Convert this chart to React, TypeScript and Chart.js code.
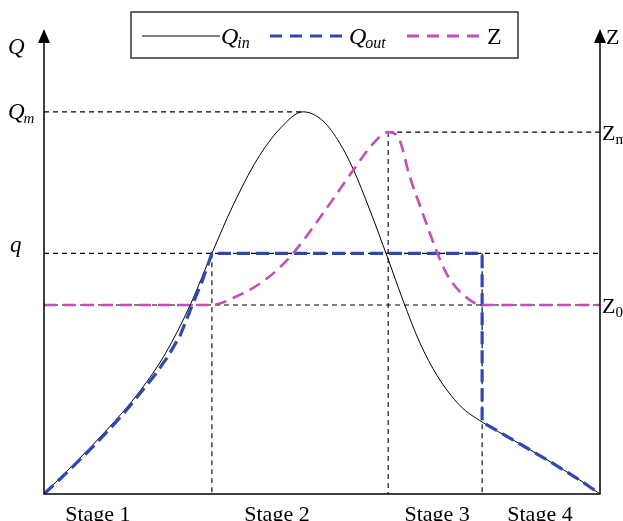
import React, { useEffect, useRef } from "react";
import { Chart, registerables } from "chart.js";

Chart.register(...registerables);

// ---- data (schematic units: x 0..100, Q/Z 0..100) ----
const QIN_X = [0, 11.3, 17.3, 21.8, 26.3, 28.4, 30.2, 34.0, 38.3, 42.4, 46.6, 50.2, 53.2, 55.6, 58.6, 61.7, 64.6, 67.6, 70.7, 74.8, 78.8, 84.4, 90.5, 96.4, 100];
const QIN_Y = [0, 13.9, 22.4, 30.4, 41.0, 47.0, 52.2, 62.6, 72.5, 79.2, 82.9, 80.9, 76.1, 70.5, 61.6, 51.6, 41.9, 32.8, 25.7, 19.2, 15.6, 11.7, 7.4, 3.0, 0];

const QOUT_X = [0, 4.5, 9.5, 14.0, 17.8, 20.0, 22.1, 24.5, 26.3, 28.4, 30.2, 78.8, 78.8, 84.4, 90.5, 96.4, 100];
const QOUT_Y = [0, 5.1, 11.1, 17.0, 22.6, 25.9, 29.5, 34.4, 39.9, 46.0, 52.2, 52.2, 15.6, 11.7, 7.4, 3.0, 0];

const Z_X = [0, 30.2, 34.7, 38.8, 42.1, 44.8, 50.2, 55.6, 59.2, 61.9, 63.7, 65.8, 68.2, 70.7, 72.5, 74.8, 78.8, 100];
const Z_Y = [41, 41, 42.9, 45.6, 48.8, 52.2, 60.9, 70.2, 76.0, 78.5, 77.4, 68.8, 60.6, 52.4, 47.6, 43.9, 41, 41];

const Q_M = 82.9;
const Q_Q = 52.2;
const Z_M = 78.5;
const Z_0 = 41;
const QM_X = 46.6;
const STAGE_BOUNDS = [30.2, 61.9, 78.8];
const STAGE_LABELS = ["Stage 1", "Stage 2", "Stage 3", "Stage 4"];
const STAGE_LABEL_X = [9.7, 41.9, 70.7, 89.2];

const BLUE = "#2f47b3";
const MAGENTA = "#c04fb8";
const FONT = '"Liberation Serif", "DejaVu Serif", serif';

const pts = (xs: number[], ys: number[]) => xs.map((x, i) => ({ x, y: ys[i] }));

function drawSub(
  ctx: CanvasRenderingContext2D,
  main: string,
  sub: string,
  x: number,
  y: number,
  italic: boolean,
  size = 22,
  subSize = 15
) {
  ctx.font = `${italic ? "italic " : ""}${size}px ${FONT}`;
  ctx.textAlign = "left";
  ctx.textBaseline = "alphabetic";
  ctx.fillText(main, x, y);
  const w = ctx.measureText(main).width;
  if (sub) {
    ctx.font = `${italic ? "italic " : ""}${subSize}px ${FONT}`;
    ctx.fillText(sub, x + w - (italic ? 1 : 0), y + 4);
  }
}

const decor = {
  id: "decor",
  afterDatasetsDraw(chart: any) {
    const ctx: CanvasRenderingContext2D = chart.ctx;
    const xs = chart.scales.x;
    const ys = chart.scales.y;
    const xL = xs.getPixelForValue(0);
    const xR = xs.getPixelForValue(100);
    const yB = ys.getPixelForValue(0);
    const top = chart.chartArea.top;
    ctx.save();
    ctx.strokeStyle = "#000";
    ctx.fillStyle = "#000";
    ctx.lineWidth = 1.5;
    ctx.setLineDash([]);
    // axes
    ctx.beginPath();
    ctx.moveTo(xL, top + 8);
    ctx.lineTo(xL, yB);
    ctx.lineTo(xR, yB);
    ctx.lineTo(xR, top + 8);
    ctx.stroke();
    // arrows
    for (const ax of [xL, xR]) {
      ctx.beginPath();
      ctx.moveTo(ax, top - 4);
      ctx.lineTo(ax - 6, top + 10);
      ctx.lineTo(ax + 6, top + 10);
      ctx.closePath();
      ctx.fill();
    }
    // left labels
    drawSub(ctx, "Q", "", 8, top + 21, true, 23);
    drawSub(ctx, "Q", "m", 8, ys.getPixelForValue(Q_M) + 7, true, 23);
    drawSub(ctx, "q", "", 10, ys.getPixelForValue(Q_Q) - 1, true, 23);
    // right labels
    const y2 = chart.scales.y2;
    drawSub(ctx, "Z", "", xR + 6, top + 11, false, 22);
    drawSub(ctx, "Z", "m", xR + 2, y2.getPixelForValue(Z_M) + 8, false, 22);
    drawSub(ctx, "Z", "0", xR + 2, y2.getPixelForValue(Z_0) + 8, false, 22);
    // stage labels
    ctx.font = `22px ${FONT}`;
    ctx.textAlign = "center";
    ctx.textBaseline = "alphabetic";
    STAGE_LABELS.forEach((s, i) => {
      ctx.fillText(s, xs.getPixelForValue(STAGE_LABEL_X[i]), yB + 27);
    });
    // legend
    ctx.lineWidth = 1.5;
    ctx.strokeStyle = "#333";
    ctx.strokeRect(131, 12, 387, 46);
    const ly = 36;
    ctx.strokeStyle = "#000";
    ctx.lineWidth = 1.2;
    ctx.beginPath();
    ctx.moveTo(142, ly);
    ctx.lineTo(220, ly);
    ctx.stroke();
    ctx.fillStyle = "#000";
    drawSub(ctx, "Q", "in", 221, ly + 8, true, 24, 16);
    ctx.strokeStyle = BLUE;
    ctx.lineWidth = 3;
    ctx.setLineDash([12, 8]);
    ctx.beginPath();
    ctx.moveTo(270, ly);
    ctx.lineTo(350, ly);
    ctx.stroke();
    drawSub(ctx, "Q", "out", 349, ly + 8, true, 24, 16);
    ctx.strokeStyle = MAGENTA;
    ctx.beginPath();
    ctx.moveTo(407, ly);
    ctx.lineTo(487, ly);
    ctx.stroke();
    ctx.setLineDash([]);
    drawSub(ctx, "Z", "", 487, ly + 8, false, 24);
    ctx.restore();
  },
};

export default function App() {
  const ref = useRef<HTMLCanvasElement | null>(null);
  useEffect(() => {
    document.body.style.margin = "0";
    const canvas = ref.current!;
    const refStyle = {
      borderColor: "#000",
      borderWidth: 1.1,
      borderDash: [5, 4],
      pointRadius: 0,
      fill: false,
      tension: 0,
      order: 5,
    };
    const chart = new Chart(canvas, {
      type: "line",
      data: {
        datasets: [
          {
            label: "Z",
            data: pts(Z_X, Z_Y),
            yAxisID: "y2",
            borderColor: MAGENTA,
            borderWidth: 2.6,
            borderDash: [12, 7],
            pointRadius: 0,
            cubicInterpolationMode: "monotone",
            order: 0,
          },
          {
            label: "Qout",
            data: pts(QOUT_X, QOUT_Y),
            borderColor: BLUE,
            borderWidth: 3.2,
            borderDash: [13, 6],
            pointRadius: 0,
            tension: 0,
            order: 1,
          },
          {
            label: "Qin",
            data: pts(QIN_X, QIN_Y),
            borderColor: "#000",
            borderWidth: 1,
            pointRadius: 0,
            cubicInterpolationMode: "monotone",
            order: 2,
          },
          { ...refStyle, label: "Qm", data: [{ x: 0, y: Q_M }, { x: QM_X, y: Q_M }] },
          { ...refStyle, label: "q", data: [{ x: 0, y: Q_Q }, { x: 100, y: Q_Q }] },
          { ...refStyle, label: "Zm", yAxisID: "y2", data: [{ x: STAGE_BOUNDS[1], y: Z_M }, { x: 100, y: Z_M }] },
          { ...refStyle, label: "Z0", yAxisID: "y2", data: [{ x: 0, y: Z_0 }, { x: 100, y: Z_0 }] },
          { ...refStyle, label: "v1", data: [{ x: STAGE_BOUNDS[0], y: Q_Q }, { x: STAGE_BOUNDS[0], y: 0 }] },
          { ...refStyle, label: "v2", yAxisID: "y2", data: [{ x: STAGE_BOUNDS[1], y: Z_M }, { x: STAGE_BOUNDS[1], y: 0 }] },
          { ...refStyle, label: "v3", data: [{ x: STAGE_BOUNDS[2], y: Q_Q }, { x: STAGE_BOUNDS[2], y: 0 }] },
        ] as any,
      },
      options: {
        animation: false,
        responsive: false,
        events: [],
        layout: { padding: { left: 44, right: 23, top: 33, bottom: 27 } },
        scales: {
          x: { type: "linear", min: 0, max: 100, display: false },
          y: { type: "linear", min: 0, max: 100, display: false },
          y2: { type: "linear", min: 0, max: 100, display: false, position: "right" },
        },
        plugins: { legend: { display: false }, tooltip: { enabled: false } },
      },
      plugins: [decor],
    });
    return () => chart.destroy();
  }, []);
  return (
    <div style={{ width: 623, height: 521, background: "#fff" }}>
      <canvas ref={ref} width={623} height={521} style={{ display: "block" }} />
    </div>
  );
}
